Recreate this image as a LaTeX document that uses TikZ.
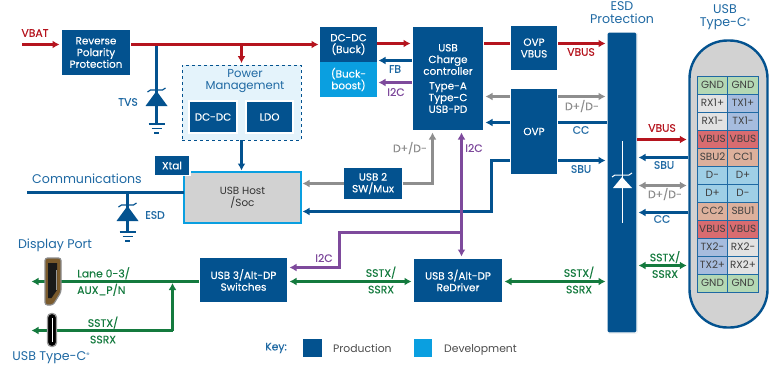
\documentclass[tikz,border=0pt]{standalone}
\usepackage{fontspec}
\setmainfont{Poppins}
\newfontfamily\labelfont{Poppins}[FakeBold=0.25]
\usetikzlibrary{arrows.meta, shadows}

\definecolor{prodblue}{HTML}{03528F}
\definecolor{devblue}{HTML}{0A9FE0}
\definecolor{wirered}{HTML}{B5141E}
\definecolor{wiregreen}{HTML}{147A3E}
\definecolor{wirepurple}{HTML}{7E4A9C}
\definecolor{wiregrey}{HTML}{8E8E8E}
\definecolor{hostgrey}{HTML}{D2D2D2}
\definecolor{headblue}{HTML}{1F69A3}
\definecolor{pmfill}{HTML}{E4F3FB}
\definecolor{pingnd}{HTML}{B4D8B4}
\definecolor{pinrx}{HTML}{E2E2E2}
\definecolor{pintx}{HTML}{A6BCDE}
\definecolor{pinvbus}{HTML}{D96C70}
\definecolor{pinsbu}{HTML}{DDB09C}
\definecolor{pind}{HTML}{9FCFE6}
\definecolor{plugbronze}{HTML}{7A5A2C}

\newcommand{\regmark}{\raisebox{3.5pt}{\fontsize{6.5}{7}\selectfont ®}}

\tikzset{
	boxtext/.style={font=\labelfont\fontsize{10.4}{11.7}\selectfont, align=center, text=white, inner sep=0pt, outer sep=0pt},
	prodbox/.style={boxtext, fill=prodblue, draw=white, line width=1.2pt, drop shadow={opacity=0.25, shadow xshift=0.6pt, shadow yshift=-0.6pt}},
	devkey/.style={prodbox, fill=devblue},
	wire/.style={line width=2.5pt, shorten >=1.5pt},
	tip/.style={-{Latex[length=7pt,width=8pt]}},
	tips/.style={{Latex[length=7pt,width=8pt]}-{Latex[length=7pt,width=8pt]}, shorten <=1.5pt},
	redwire/.style={wire, wirered},
	bluewire/.style={wire, prodblue},
	greywire/.style={wire, wiregrey},
	greenwire/.style={wire, wiregreen},
	purplewire/.style={wire, wirepurple},
	wirelabel/.style={font=\labelfont\fontsize{10.8}{16.5}\selectfont, align=center, inner sep=0pt},
	keylabel/.style={font=\fontsize{10.8}{13}\selectfont, anchor=base west, text=black!70, inner sep=0pt},
	heading/.style={font=\fontsize{12.6}{12.5}\selectfont, align=center, text=headblue, inner sep=0pt},
	pin/.style={font=\fontsize{10.4}{10}\selectfont, text=black!75, inner sep=0pt, minimum width=30.5pt, minimum height=18pt, draw=headblue, line width=0.8pt},
}

\begin{document}
\begin{tikzpicture}[x=1pt, y=-1pt]
	\useasboundingbox (0,0) rectangle (775,372);

	% Boxes of the power path
	\node[prodbox, minimum width=70pt, minimum height=47pt] (revprot) at (96,52.5) {Reverse\\Polarity\\Protection};
	\node[prodbox, minimum width=57pt, minimum height=70pt] (dcframe) at (348.5,62) {};
	\node[boxtext, fill=prodblue, minimum width=57pt, minimum height=35pt] (buck) at (348.5,44.5) {DC-DC\\(Buck)};
	\node[boxtext, fill=devblue, minimum width=57pt, minimum height=35pt] (buckboost) at (348.5,79.5) {(Buck-\\boost)};
	\node[prodbox, minimum width=72pt, minimum height=105pt] (charger) at (448,78.5) {USB\\Charge\\controller\\[3pt]Type-A\\Type-C\\USB-PD};
	\node[prodbox, minimum width=48pt, minimum height=46pt] (ovpvbus) at (534,48) {OVP\\VBUS};
	\node[prodbox, minimum width=48pt, minimum height=87pt] (ovp) at (534,131.5) {OVP};

	% Power management group
	\node[draw=prodblue, dashed, fill=pmfill, line width=0.8pt, minimum width=119pt, minimum height=75pt, inner sep=0pt] (pmgroup) at (241.5,102.5) {};
	\node[heading, font=\fontsize{11.6}{11.5}\selectfont] (pmtitle) at (245,81) {Power\\Management};
	\node[prodbox, minimum width=48pt, minimum height=32pt] (pmdcdc) at (213,117) {DC-DC};
	\node[prodbox, minimum width=47pt, minimum height=32pt] (pmldo) at (269.5,117) {LDO};

	% Host and the parts around it
	\node[boxtext, font=\fontsize{10.4}{11.7}\selectfont, text=black!80, fill=hostgrey, draw=devblue, line width=1.5pt, minimum width=117pt, minimum height=51pt, drop shadow={opacity=0.2, shadow xshift=0.6pt, shadow yshift=-0.6pt}] (host) at (242.5,197.5) {USB Host\\/Soc};
	\node[prodbox, minimum width=36pt, minimum height=20pt] (xtal) at (172,165.5) {Xtal};
	\node[prodbox, minimum width=59pt, minimum height=33pt] (usbmux) at (373,183.5) {USB 2\\SW/Mux};
	\node[prodbox, minimum width=89pt, minimum height=46pt] (altswitch) at (243.5,280) {USB 3/Alt-DP\\Switches};
	\node[prodbox, minimum width=90pt, minimum height=45pt] (redriver) at (458,280.5) {USB 3/Alt-DP\\ReDriver};

	% ESD bar with its white diode
	\node[prodbox, rounded corners=1.5pt, minimum width=30pt, minimum height=301pt] (esdbar) at (622,182.5) {};
	\draw[white, line width=1pt] (622,141) -- (622,223);
	\fill[white] (622,177) -- (632,188) -- (613,188) -- cycle;
	\draw[white, line width=1pt] (612,177) -- (615,175) -- (629,175) -- (632,173);
	\node[heading] (esdtitle) at (622,12.5) {ESD\\Protection};

	% Connector shell and its pins
	\node[draw=prodblue, fill=hostgrey, line width=2.4pt, rounded corners=38pt, minimum width=78pt, minimum height=287pt, inner sep=0pt] (usbshell) at (728.5,184) {};
	\node[heading] (usbtitle) at (725,17) {USB\\[1pt]Type-C\regmark};
	\foreach \lpin/\lcol/\rpin/\rcol [count=\n] in {GND/pingnd/GND/pingnd, RX1+/pinrx/TX1+/pintx, RX1-/pinrx/TX1-/pintx, VBUS/pinvbus/VBUS/pinvbus, SBU2/pinsbu/CC1/pinsbu, D-/pind/D+/pind, D+/pind/D-/pind, CC2/pinsbu/SBU1/pinsbu, VBUS/pinvbus/VBUS/pinvbus, TX2-/pintx/RX2-/pinrx, TX2+/pintx/RX2+/pinrx, GND/pingnd/GND/pingnd}{
		\pgfmathsetmacro{\rowy}{67+18*\n}
		\node[pin, fill=\lcol] (pinl\n) at (712.5,\rowy) {\lpin};
		\node[pin, fill=\rcol] (pinr\n) at (743,\rowy) {\rpin};
	}

	% Free ends and junctions
	\coordinate (vbatin) at (22,44.5);
	\coordinate (tvstap) at (156.5,44.5);
	\coordinate (tvsgnd) at (156.5,124);
	\coordinate (pmtap) at (241.5,44.5);
	\coordinate (commin) at (27,192.5);
	\coordinate (esdtap) at (127.5,192.5);
	\coordinate (esdgnd) at (127.5,232);
	\coordinate (dpout) at (30,281.5);
	\coordinate (cout) at (30,330.5);
	\coordinate (cjoin) at (172.5,281.5);
	\coordinate (i2cjoin) at (461.5,232.5);

	% Diodes and grounds
	\draw[bluewire, shorten >=0pt] (tvstap) -- (tvsgnd);
	\draw[bluewire, shorten >=0pt] (esdtap) -- (esdgnd);
	\foreach \dx/\dy/\gy in {156.5/91/124, 127.5/206/232}{
		\fill[prodblue] (\dx,\dy) -- (\dx+11,\dy+15) -- (\dx-11,\dy+15) -- cycle;
		\draw[prodblue, line width=1.2pt] (\dx-9,\dy+1) -- (\dx-6,\dy-1) -- (\dx+6,\dy-1) -- (\dx+9,\dy-3);
		\draw[prodblue, line width=1.2pt] (\dx-8,\gy) -- (\dx+8,\gy);
		\draw[prodblue, line width=1.2pt] (\dx-5,\gy+4.5) -- (\dx+5,\gy+4.5);
		\draw[prodblue, line width=1.2pt] (\dx-2.5,\gy+9) -- (\dx+2.5,\gy+9);
	}

	% Red wires
	\draw[redwire, tip] (vbatin) -- (revprot.west |- vbatin);
	\draw[redwire, tip] (revprot.east |- vbatin) -- (dcframe.west |- vbatin);
	\draw[redwire, tip] (pmtap) -- (pmgroup.north -| pmtap);
	\draw[redwire, tip] (dcframe.east |- 0,43.5) -- (charger.west |- 0,43.5);
	\draw[redwire, shorten >=0pt] (charger.east |- 0,43.5) -- (ovpvbus.west |- 0,43.5);
	\draw[redwire, tip] (ovpvbus.east |- 0,43.5) -- (esdbar.west |- 0,43.5);
	\draw[redwire, tip] (esdbar.east |- 0,139.5) -- (usbshell.west |- 0,139.5);

	% Blue wires
	\draw[bluewire, tip] (charger.west |- 0,60.5) -- (dcframe.east |- 0,60.5);
	\draw[bluewire, tip] (pmgroup.south -| pmtap) -- (host.north -| pmtap);
	\draw[bluewire, shorten >=0pt] (commin) -- (host.west |- commin);
	\draw[bluewire, tip] (ovp.west |- 0,122.5) -- (charger.east |- 0,122.5);
	\draw[bluewire, shorten >=0pt] (ovp.east |- 0,122.5) -- (esdbar.west |- 0,122.5);
	\draw[bluewire, tip] (ovp.east |- 0,160.5) -- (esdbar.west |- 0,160.5);
	\draw[bluewire, tip] (ovp.west |- 0,160.5) -| (491.5,211.5) -- (host.east |- 0,211.5);
	\draw[bluewire, tip] (usbshell.west |- 0,157.5) -- (esdbar.east |- 0,157.5);
	\draw[bluewire, tip] (usbshell.west |- 0,212.5) -- (esdbar.east |- 0,212.5);

	% Grey wires
	\draw[greywire, tip] (ovp.west |- 0,96.5) -- (charger.east |- 0,96.5);
	\draw[greywire, tip] (ovp.east |- 0,96.5) -- (esdbar.west |- 0,96.5);
	\draw[greywire, tip] (usbmux.west) -- (host.east |- usbmux.west);
	\draw[greywire, tip] (usbmux.east) -| (charger.south -| 432.5,0);
	\draw[greywire, tips] (esdbar.east |- 0,185.5) -- (usbshell.west |- 0,185.5);

	% Purple wires
	\draw[purplewire, tip] (charger.west |- 0,82.5) -- (dcframe.east |- 0,82.5);
	\draw[purplewire, tips] (charger.south -| i2cjoin) -- (redriver.north -| i2cjoin);
	\draw[purplewire, tip] (i2cjoin) -| (339.5,267.5) -- (altswitch.east |- 0,267.5);

	% Green wires
	\draw[greenwire, tip] (altswitch.west |- dpout) -- (dpout);
	\draw[greenwire, tip] (cjoin |- cout) -- (cout);
	\draw[greenwire, tip] (cjoin |- cout) -- (cjoin);
	\draw[greenwire, tips] (altswitch.east |- dpout) -- (redriver.west |- dpout);
	\draw[greenwire, tips] (redriver.east |- dpout) -- (esdbar.west |- dpout);
	\draw[greenwire, tips] (esdbar.east |- 0,265.5) -- (usbshell.west |- 0,265.5);

	% Plugs on top of their wires
	\draw[fill=plugbronze, draw=black!45, line width=1.2pt, rounded corners=2.5pt] (45,258) -- (61,258) -- (61,292) -- (53,305) -- (45,305) -- cycle;
	\fill[black!90] (48,263) -- (57,263) -- (57,290) -- (51.5,298) -- (48,298) -- cycle;
	\draw[black!40, line width=1pt] (56,270) -- (56,290);
	\node[fill=black, draw=black!40, line width=1.3pt, rounded corners=4pt, minimum width=9pt, minimum height=33pt, inner sep=0pt] (cplug) at (52,330) {};
	\draw[white, line width=0.5pt] (52,318) -- (52,342);

	% Wire labels
	\node[wirelabel, text=wirered] (lbvbat) at (35,33) {VBAT};
	\node[wirelabel, text=headblue] (lbtvs) at (128,102) {TVS};
	\node[wirelabel, text=wirered] (lbvbus) at (581,52) {VBUS};
	\node[wirelabel, text=wiregrey] (lbdpdm) at (582,106) {D+/D-};
	\node[wirelabel, text=headblue] (lbcc) at (581,130) {CC};
	\node[wirelabel, text=headblue] (lbsbu) at (581,169) {SBU};
	\node[wirelabel, text=headblue] (lbfb) at (395,69) {FB};
	\node[wirelabel, text=wirepurple] (lbi2ca) at (396,92) {I2C};
	\node[wirelabel, text=wiregrey] (lbdpdmb) at (410,148) {D+/D-};
	\node[wirelabel, text=wirepurple] (lbi2cb) at (474,148) {I2C};
	\node[wirelabel, text=wirepurple] (lbi2cc) at (324,258) {I2C};
	\node[wirelabel, text=headblue] (lbesd) at (155,215) {ESD};
	\node[wirelabel, text=wirered] (lbvbusb) at (662,128) {VBUS};
	\node[wirelabel, text=headblue] (lbsbub) at (664,165) {SBU};
	\node[wirelabel, text=wiregrey] (lbdpdmc) at (665,194) {D+/D-};
	\node[wirelabel, text=headblue] (lbccb) at (662,219) {CC};
	\node[wirelabel, text=wiregreen] (lbssa) at (665,264.5) {SSTX/\\SSRX};
	\node[wirelabel, text=wiregreen] (lbssb) at (579,280) {SSTX/\\SSRX};
	\node[wirelabel, text=wiregreen] (lbssc) at (381,280) {SSTX/\\SSRX};
	\node[wirelabel, text=wiregreen] (lbssd) at (103,330) {SSTX/\\SSRX};
	\node[wirelabel, text=wiregreen, align=left, anchor=west] (lblane) at (77,281.5) {Lane 0-3/\\AUX\_P/N};

	% Headings on the left
	\node[heading] (lbcomm) at (87,179) {Communications};
	\node[heading] (lbdp) at (55,245) {Display Port};
	\node[heading] (lbusbc) at (51,358) {USB Type-C\regmark};

	% Key
	\node[wirelabel, text=headblue] (lbkey) at (276,348) {Key:};
	\node[prodbox, minimum width=20pt, minimum height=20pt] (keyprod) at (312.5,348) {};
	\node[keylabel] (lbprod) at (333,352) {Production};
	\node[devkey, minimum width=20pt, minimum height=20pt] (keydev) at (423,348) {};
	\node[keylabel] (lbdev) at (444,352) {Development};
\end{tikzpicture}
\end{document}
